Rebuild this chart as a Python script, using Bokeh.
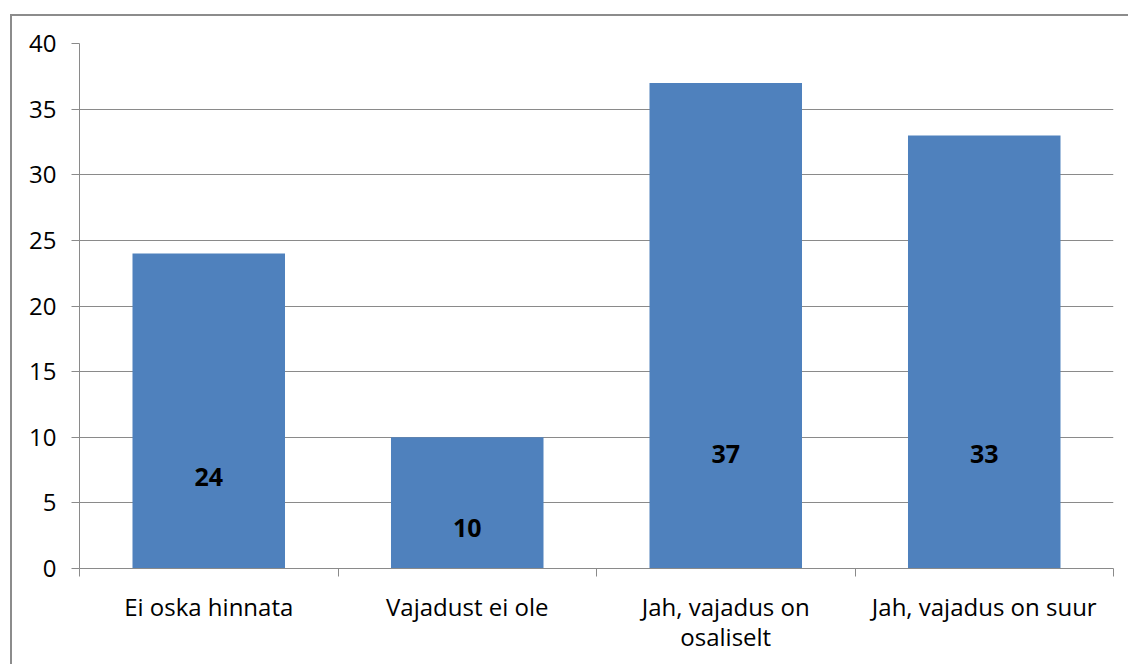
from bokeh.plotting import figure
from bokeh.models import Range1d, FixedTicker
from bokeh.embed import file_html
from bokeh.resources import INLINE
from bokeh.core.properties import value

categories = ["Ei oska hinnata", "Vajadust ei ole", "Jah, vajadus on\nosaliselt", "Jah, vajadus on suur"]
values = [24, 10, 37, 33]
label_y = [7.0, 3.05, 8.76, 8.76]
y_ticks = [0, 5, 10, 15, 20, 25, 30, 35, 40]

xs = [i + 0.5 for i in range(len(categories))]
labels = [str(v) for v in values]

FONT = "Open Sans"
GRAY = "#8a8a8a"

p = figure(width=1118, height=650, output_backend="svg", toolbar_location=None,
           x_range=Range1d(0, len(categories)), y_range=Range1d(0, 40),
           min_border_left=67, min_border_right=17, min_border_top=27, min_border_bottom=98,
           styles={"margin-left": "10px", "margin-top": "14px",
                   "border-left": "2px solid #8c8c8c", "border-top": "2px solid #8c8c8c"})
p.outline_line_color = None
p.background_fill_color = "white"
p.border_fill_color = "white"

p.vbar(x=xs, top=values, width=0.59, bottom=0, color="#4F81BD", line_color=None)
p.text(x=xs, y=label_y, text=labels, text_align="center", text_baseline="middle",
       text_font=value(FONT), text_font_style="bold", text_font_size="25px", text_color="black")

# y axis
p.yaxis.ticker = FixedTicker(ticks=y_ticks)
p.yaxis.axis_line_color = GRAY
p.yaxis.major_tick_line_color = GRAY
p.yaxis.major_tick_out = 8
p.yaxis.major_tick_in = 0
p.yaxis.minor_tick_line_color = None
p.yaxis.major_label_text_font = FONT
p.yaxis.major_label_text_font_size = "24px"
p.yaxis.major_label_text_color = "black"
p.yaxis.major_label_standoff = 15

# x axis: labels at centers, ticks at boundaries
p.xaxis.ticker = FixedTicker(ticks=xs, minor_ticks=list(range(len(categories) + 1)))
p.xaxis.major_label_overrides = {x: c for x, c in zip(xs, categories)}
p.xaxis.axis_line_color = GRAY
p.xaxis.major_tick_line_color = None
p.xaxis.major_tick_out = 0
p.xaxis.major_tick_in = 0
p.xaxis.minor_tick_line_color = GRAY
p.xaxis.minor_tick_out = 8
p.xaxis.minor_tick_in = 0
p.xaxis.major_label_text_font = FONT
p.xaxis.major_label_text_font_size = "24px"
p.xaxis.major_label_text_color = "black"
p.xaxis.major_label_text_line_height = 0.92
p.xaxis.major_label_standoff = 13

p.xgrid.grid_line_color = None
p.ygrid.ticker = FixedTicker(ticks=y_ticks)
p.ygrid.grid_line_color = GRAY
p.ygrid.grid_line_width = 1

open("out.html", "w").write(file_html(p, INLINE))
